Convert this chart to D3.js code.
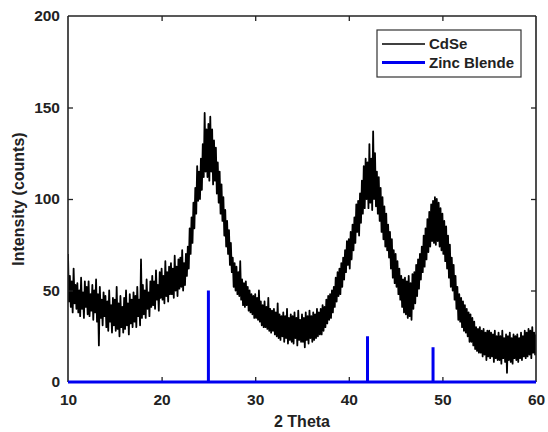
<!DOCTYPE html>
<html>
<head>
<meta charset="utf-8">
<script src="https://cdn.jsdelivr.net/npm/d3@7"></script>
<style>
  html, body { margin: 0; padding: 0; background: #fff; }
  svg { display: block; font-family: "Liberation Sans", Arial, sans-serif; }
</style>
</head>
<body>
<svg id="chart" width="548" height="432"></svg>
<script>
// ---- data ----
const thetaStart = 10;
const thetaStep = 0.1;
// CdSe intensity (counts), one value per 0.1 deg from 10.0 to 60.0
const cdseCounts = [
  70,44,58,41,55,38,62,43,53,40,
  54,38,50,36,57,40,49,35,55,41,
  52,37,55,36,48,39,53,34,50,38,
  56,33,48,20,52,35,45,31,49,36,
  47,30,44,28,50,33,42,27,46,31,
  45,28,52,29,43,25,47,30,41,27,
  46,29,50,31,43,26,48,32,45,30,
  49,33,47,30,52,36,45,31,67,35,
  53,37,50,35,56,40,49,36,55,41,
  58,42,55,40,61,45,53,39,60,46,
  62,45,58,43,66,47,60,44,63,48,
  65,48,62,46,69,50,63,47,67,51,
  68,52,72,50,65,53,70,58,74,62,
  84,70,90,76,98,84,106,92,118,99,
  115,100,122,105,130,112,147,115,138,112,
  141,110,145,115,138,108,132,110,128,103,
  120,98,115,92,108,88,101,80,94,74,
  88,70,83,64,76,60,68,52,65,50,
  63,48,60,47,66,45,56,42,54,41,
  55,42,52,39,50,38,48,37,47,35,
  48,35,46,34,50,33,44,31,42,30,
  44,30,41,29,46,28,40,27,39,28,
  40,26,38,25,43,24,37,23,36,25,
  38,22,36,24,40,21,35,23,37,22,
  36,21,38,24,35,20,39,23,34,22,
  37,22,35,19,38,23,36,21,39,24,
  36,22,38,23,37,24,40,25,38,26,
  40,26,42,28,41,30,45,32,47,34,
  48,35,50,38,52,41,57,44,60,47,
  62,48,65,52,68,56,72,60,77,64,
  78,62,82,67,86,72,90,76,97,82,
  99,80,103,87,110,92,118,95,122,100,
  120,95,130,98,122,94,137,100,125,96,
  115,92,112,88,106,82,101,78,96,74,
  92,72,86,68,82,62,78,57,72,54,
  70,52,66,48,62,45,58,41,56,38,
  57,37,55,35,58,36,54,34,59,40,
  60,43,64,47,67,51,70,56,74,60,
  80,63,84,67,89,71,93,74,97,77,
  99,76,101,75,100,77,98,74,95,72,
  92,70,88,66,85,62,80,57,75,52,
  68,50,64,45,58,40,52,34,48,33,
  46,30,44,28,42,27,40,25,38,22,
  37,22,35,20,33,18,30,17,29,16,
  30,16,28,14,29,15,27,12,28,14,
  28,13,27,14,26,11,28,13,25,12,
  27,12,25,10,28,13,24,11,26,5,
  25,12,27,11,24,10,26,13,25,12,
  26,11,24,13,27,12,25,14,28,13,
  27,14,29,15,28,13,30,16,27,15,
  26
];
// Zinc blende reference lines
const zbPositions = [25, 42, 49];
const zbIntensities = [50, 25, 19];
// axes
const xTicks = [10, 20, 30, 40, 50, 60];
const yTicks = [0, 50, 100, 150, 200];
const xDomain = [10, 60];
const yDomain = [0, 200];
const seriesNames = ["CdSe", "Zinc Blende"];

// ---- layout ----
const L = 68, R = 536, T = 16, B = 382;
const svg = d3.select("#chart");
const x = d3.scaleLinear().domain(xDomain).range([L, R]);
const y = d3.scaleLinear().domain(yDomain).range([B, T]);
const blue = "#0000f0";

svg.append("defs").append("clipPath").attr("id", "clip")
  .append("rect").attr("x", L).attr("y", T).attr("width", R - L).attr("height", B - T);

// CdSe trace
const cdse = cdseCounts.map((v, i) => ({ t: thetaStart + i * thetaStep, v }));
svg.append("path")
  .datum(cdse)
  .attr("clip-path", "url(#clip)")
  .attr("fill", "none")
  .attr("stroke", "#000")
  .attr("stroke-width", 1.8)
  .attr("stroke-linejoin", "round")
  .attr("d", d3.line().x(d => x(d.t)).y(d => y(d.v)));

// axes (box with inward ticks)
const tickLen = 5;
const gBottom = svg.append("g").attr("transform", `translate(0,${B})`)
  .call(d3.axisBottom(x).tickValues(xTicks).tickSize(-tickLen).tickPadding(12).tickFormat(d3.format("d")));
const gTop = svg.append("g").attr("transform", `translate(0,${T})`)
  .call(d3.axisTop(x).tickValues(xTicks).tickSize(-tickLen).tickFormat(""));
const gLeft = svg.append("g").attr("transform", `translate(${L},0)`)
  .call(d3.axisLeft(y).tickValues(yTicks).tickSize(-tickLen).tickPadding(8).tickFormat(d3.format("d")));
const gRight = svg.append("g").attr("transform", `translate(${R},0)`)
  .call(d3.axisRight(y).tickValues(yTicks).tickSize(-tickLen).tickFormat(""));
[gBottom, gTop, gLeft, gRight].forEach(g => {
  g.select(".domain").attr("stroke", "#222").attr("stroke-width", 1.6);
  g.selectAll(".tick line").attr("stroke", "#222").attr("stroke-width", 1.3);
  g.selectAll(".tick text").attr("fill", "#222").attr("font-size", 15.5).attr("font-weight", "bold")
    .attr("font-family", "'Liberation Sans', Arial, sans-serif");
});
// remove tick stubs at corners duplicating domain
gTop.selectAll(".tick").filter(d => d === 10 || d === 60).select("line").remove();
gBottom.selectAll(".tick").filter(d => d === 10 || d === 60).select("line").remove();
gLeft.selectAll(".tick").filter(d => d === 0 || d === 200).select("line").remove();
gRight.selectAll(".tick").filter(d => d === 0 || d === 200).select("line").remove();
gTop.select(".domain").attr("d", `M${L},0H${R}`);
gBottom.select(".domain").attr("d", `M${L},0H${R}`);
gLeft.select(".domain").attr("d", `M0,${T}V${B}`);
gRight.select(".domain").attr("d", `M0,${T}V${B}`);

// Zinc blende stems + baseline
svg.append("line")
  .attr("x1", x(xDomain[0])).attr("x2", x(xDomain[1]))
  .attr("y1", y(0)).attr("y2", y(0))
  .attr("stroke", blue).attr("stroke-width", 3);
svg.selectAll(".stem").data(zbPositions.map((p, i) => ({ p, v: zbIntensities[i] })))
  .enter().append("line").attr("class", "stem")
  .attr("x1", d => x(d.p)).attr("x2", d => x(d.p))
  .attr("y1", y(0)).attr("y2", d => y(d.v))
  .attr("stroke", blue).attr("stroke-width", 3);

// axis labels
svg.append("text").attr("x", (L + R) / 2).attr("y", 427)
  .attr("text-anchor", "middle").attr("font-size", 16).attr("font-weight", "bold").attr("fill", "#222")
  .text("2 Theta");
svg.append("text").attr("transform", `translate(24,${(T + B) / 2}) rotate(-90)`)
  .attr("text-anchor", "middle").attr("font-size", 16).attr("font-weight", "bold").attr("fill", "#222")
  .text("Intensity (counts)");

// legend
const lg = svg.append("g");
lg.append("rect").attr("x", 377).attr("y", 30).attr("width", 144).attr("height", 47)
  .attr("fill", "#fff").attr("stroke", "#333").attr("stroke-width", 1.2);
const legendColors = ["#000", blue];
const legendWidths = [1.5, 3];
seriesNames.forEach((name, i) => {
  const ly = 44 + i * 18.5;
  lg.append("line").attr("x1", 382).attr("x2", 425).attr("y1", ly).attr("y2", ly)
    .attr("stroke", legendColors[i]).attr("stroke-width", legendWidths[i]);
  lg.append("text").attr("x", 429).attr("y", ly).attr("dy", "0.35em")
    .attr("font-size", 15).attr("font-weight", "bold").attr("fill", "#222").text(name);
});
</script>
</body>
</html>
